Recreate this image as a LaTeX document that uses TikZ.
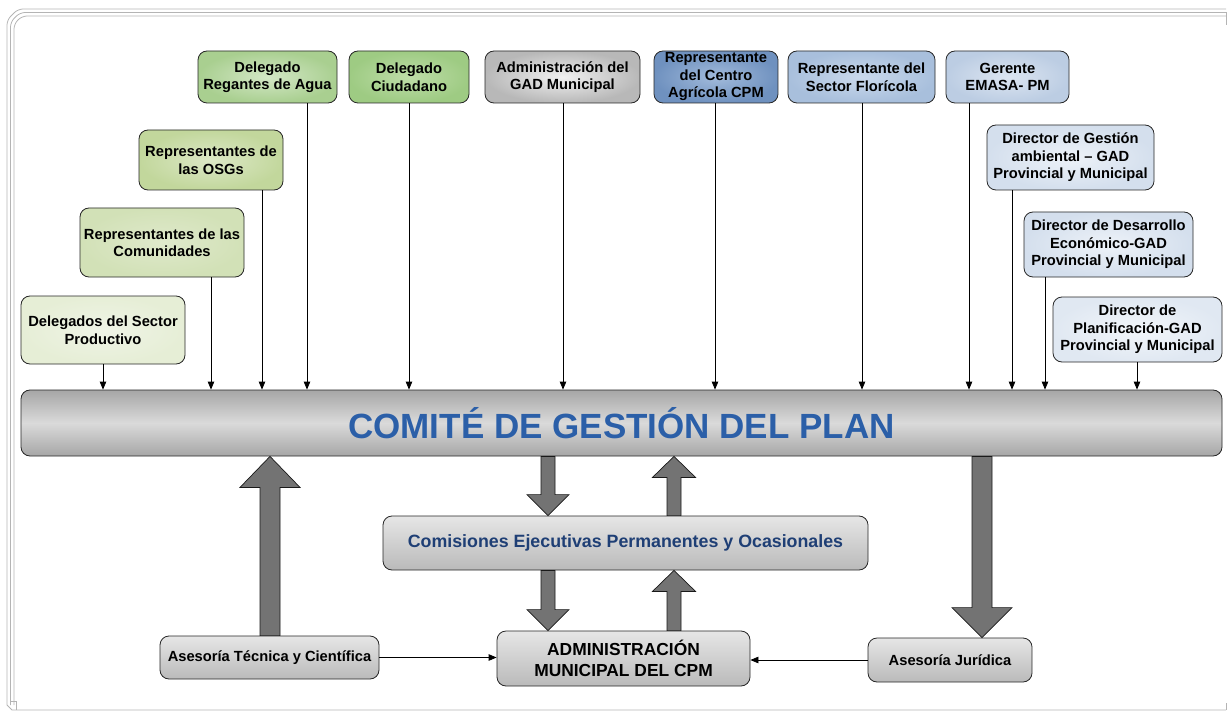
\documentclass[tikz,border=0pt]{standalone}
\usepackage{fontspec}
\setmainfont{Liberation Sans}
\usetikzlibrary{arrows.meta,calc}
\definecolor{frame}{HTML}{B4B4B4}
\definecolor{arrgray}{HTML}{737373}
\definecolor{titleblue}{HTML}{2B5FA8}
\definecolor{comblue}{HTML}{1F3F75}
\definecolor{gA1}{HTML}{EFF4E6}\definecolor{gA2}{HTML}{E6EED6}
\definecolor{gB1}{HTML}{DFE9CB}\definecolor{gB2}{HTML}{D2E1B7}
\definecolor{gC1}{HTML}{DCE8C6}\definecolor{gC2}{HTML}{C2D79C}
\definecolor{gD1}{HTML}{D3E7C6}\definecolor{gD2}{HTML}{A9CF90}
\definecolor{gE1}{HTML}{BEDDA8}\definecolor{gE2}{HTML}{9ECB83}
\definecolor{yA1}{HTML}{F0F0F0}\definecolor{yA2}{HTML}{B8B8B8}
\definecolor{bA1}{HTML}{A2BBDB}\definecolor{bA2}{HTML}{6F91BF}
\definecolor{bB1}{HTML}{CAD9EC}\definecolor{bB2}{HTML}{A8BFDC}
\definecolor{bC1}{HTML}{DCE5F1}\definecolor{bC2}{HTML}{BCCDE3}
\definecolor{bD1}{HTML}{EDF2F8}\definecolor{bD2}{HTML}{D4DFED}
\definecolor{bE1}{HTML}{F2F6FA}\definecolor{bE2}{HTML}{E0E8F2}
\definecolor{lg1}{HTML}{E6E6E6}\definecolor{lg2}{HTML}{BABABA}
\definecolor{cm1}{HTML}{A6A6A6}\definecolor{cm2}{HTML}{DADADA}
\newcommand\fatdown[5]{\draw[fatarr] let \p1=#1, \p2=#2 in (\x1-#3pt,\y1) -- (\x1-#3pt,\y2+#5pt) -- (\x1-#4pt,\y2+#5pt) -- (\x1,\y2) -- (\x1+#4pt,\y2+#5pt) -- (\x1+#3pt,\y2+#5pt) -- (\x1+#3pt,\y1) -- cycle;}
\newcommand\fatup[5]{\draw[fatarr] let \p1=#1, \p2=#2 in (\x1-#3pt,\y1) -- (\x1-#3pt,\y2-#5pt) -- (\x1-#4pt,\y2-#5pt) -- (\x1,\y2) -- (\x1+#4pt,\y2-#5pt) -- (\x1+#3pt,\y2-#5pt) -- (\x1+#3pt,\y1) -- cycle;}
\begin{document}
\begin{tikzpicture}[x=1pt,y=-1pt,
  ubox/.style={draw=black!85, line width=0.8pt, rounded corners=9pt, align=center, inner sep=0pt,
    font=\bfseries\fontsize{14.7}{17.5}\selectfont},
  grn1/.style={inner color=gA1, outer color=gA2},
  grn2/.style={inner color=gB1, outer color=gB2},
  grn3/.style={inner color=gC1, outer color=gC2},
  grn4/.style={inner color=gD1, outer color=gD2},
  grn5/.style={inner color=gE1, outer color=gE2},
  gry/.style={inner color=yA1, outer color=yA2},
  blu1/.style={inner color=bA1, outer color=bA2},
  blu2/.style={inner color=bB1, outer color=bB2},
  blu3/.style={inner color=bC1, outer color=bC2},
  blu4/.style={inner color=bD1, outer color=bD2},
  blu5/.style={inner color=bE1, outer color=bE2},
  lgry/.style={top color=lg1, bottom color=lg2},
  thinarr/.style={draw=black, line width=0.8pt, -{Triangle[length=8pt,width=6.5pt]}},
  fatarr/.style={fill=arrgray, draw=black!90, line width=0.7pt}]
\useasboundingbox (0,0) rectangle (1228,711);
% page frame
\begin{scope}[draw=frame, line width=0.8pt]
  \draw[rounded corners=5pt] (7,705) -- (7,20) -- (18,9) -- (1226,9);
  \draw[rounded corners=5pt] (10.5,705) -- (10.5,22) -- (20,12.5) -- (1226,12.5);
  \draw[rounded corners=5pt] (14,705) -- (14,24) -- (22,16) -- (1226,16);
  \draw (1226,12.5) -- (1226,25);
  \draw (7,705) -- (12,710) -- (1226,710);
  \draw (10.5,701) -- (16,701) -- (16,710);
  \draw (1226,703) -- (1226,710);
\end{scope}
% central nodes
\node[ubox, minimum width=1201pt, minimum height=66pt,
  top color=cm1, bottom color=cm1, middle color=cm2] (comite) at (621.5,423)
  {\color{titleblue}\fontsize{35}{40}\selectfont COMITÉ DE GESTIÓN DEL PLAN};
\node[ubox, lgry, minimum width=485pt, minimum height=54pt, font=\bfseries\fontsize{17.8}{21}\selectfont] (comis) at (625.5,543)
  {\color{comblue}Comisiones Ejecutivas Permanentes y Ocasionales};
\node[ubox, lgry, minimum width=253pt, minimum height=55pt, font=\bfseries\fontsize{17.4}{21}\selectfont] (admin) at (623.5,658.5)
  {ADMINISTRACIÓN\\MUNICIPAL DEL CPM};
\node[ubox, lgry, minimum width=219pt, minimum height=43pt] (tec) at (269.5,657.5) {Asesoría Técnica y Científica};
\node[ubox, lgry, minimum width=164pt, minimum height=44pt] (jur) at (950,660) {Asesoría Jurídica};
% top nodes
\node[ubox, grn1, minimum width=164pt, minimum height=68pt] (prod) at (103,330) {Delegados del Sector\\Productivo};
\node[ubox, grn2, minimum width=164pt, minimum height=69pt] (comu) at (162,242.5) {Representantes de las\\Comunidades};
\node[ubox, grn3, minimum width=144pt, minimum height=60pt] (osg) at (211,160) {Representantes de\\las OSGs};
\node[ubox, grn4, minimum width=139pt, minimum height=52pt] (reg) at (267.5,77) {Delegado\\Regantes de Agua};
\node[ubox, grn5, minimum width=120pt, minimum height=52pt] (ciu) at (409,77) {Delegado\\Ciudadano};
\node[ubox, gry, minimum width=155pt, minimum height=52pt] (gad) at (562.5,77) {Administración del\\GAD Municipal};
\node[ubox, blu1, minimum width=124pt, minimum height=52pt] (cen) at (716,77) {Representante\\del Centro\\Agrícola CPM};
\node[ubox, blu2, minimum width=147pt, minimum height=52pt] (flo) at (861.5,77) {Representante del\\Sector Florícola};
\node[ubox, blu3, minimum width=123pt, minimum height=52pt] (ger) at (1007.5,77) {Gerente\\EMASA- PM};
\node[ubox, blu4, minimum width=167pt, minimum height=65pt] (ges) at (1070.5,157.5) {Director de Gestión\\ambiental – GAD\\Provincial y Municipal};
\node[ubox, blu4, minimum width=169pt, minimum height=65pt] (des) at (1108.5,244.5) {Director de Desarrollo\\Económico-GAD\\Provincial y Municipal};
\node[ubox, blu5, minimum width=169pt, minimum height=65pt] (pla) at (1137.5,329.5) {Director de\\Planificación-GAD\\Provincial y Municipal};
% connector columns
\coordinate (kprod) at (103,0);
\coordinate (kcomu) at (211,0);
\coordinate (kosg) at (262,0);
\coordinate (kreg) at (307,0);
\coordinate (kciu) at (409,0);
\coordinate (kgad) at (563,0);
\coordinate (kcen) at (715,0);
\coordinate (kflo) at (862,0);
\coordinate (kger) at (969,0);
\coordinate (kges) at (1012,0);
\coordinate (kdes) at (1045,0);
\coordinate (kpla) at (1137,0);
\foreach \n in {prod,comu,osg,reg,ciu,gad,cen,flo,ger,ges,des,pla}
  \draw[thinarr] (k\n |- \n.south) -- (k\n |- comite.north);
% thin horizontal connectors
\draw[thinarr] (tec.east) -- (tec.east -| admin.west);
\draw[thinarr] (jur.west) -- (jur.west -| admin.east);
% fat arrows
\coordinate (ftec) at (270,0);
\coordinate (fdn) at (548,0);
\coordinate (fup) at (674,0);
\coordinate (fjur) at (982,0);
\fatup{(ftec |- tec.north)}{(ftec |- comite.south)}{10}{30}{31}
\fatdown{(fdn |- comite.south)}{(fdn |- comis.north)}{7}{21}{21}
\fatdown{(fdn |- comis.south)}{(fdn |- admin.north)}{7}{21}{21}
\fatup{(fup |- admin.north)}{(fup |- comis.south)}{7}{21.5}{21}
\fatup{(fup |- comis.north)}{(fup |- comite.south)}{7}{21.5}{21}
\fatdown{(fjur |- comite.south)}{(fjur |- jur.north)}{10}{30}{30}
\end{tikzpicture}
\end{document}
